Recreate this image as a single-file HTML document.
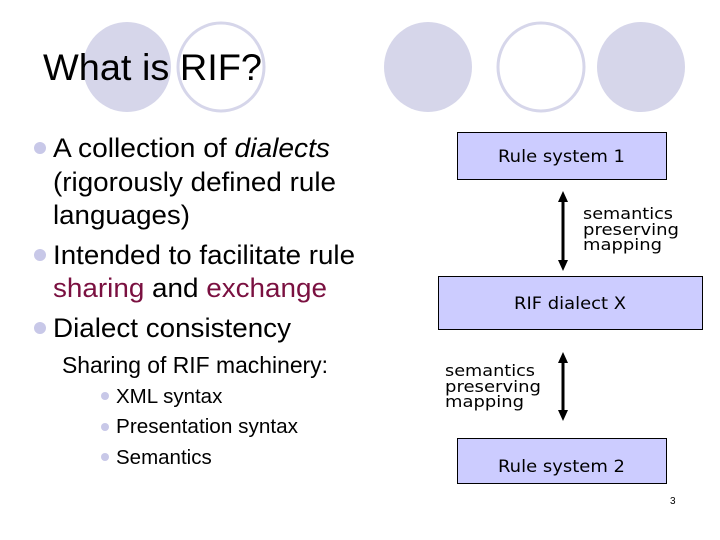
<!DOCTYPE html>
<html><head><style>body{margin:0;background:#fff}svg{display:block}</style></head><body>
<svg width="720" height="540" xmlns="http://www.w3.org/2000/svg">
<g fill="#d6d6ea">
<ellipse cx="127" cy="67" rx="44" ry="45"/>
<ellipse cx="428" cy="67" rx="44" ry="45"/>
<ellipse cx="641" cy="67" rx="44" ry="45"/>
</g>
<g fill="none" stroke="#d6d6ea" stroke-width="3">
<ellipse cx="221" cy="67" rx="43" ry="44"/>
<ellipse cx="541" cy="67" rx="43" ry="44"/>
</g>
<text x="43" y="80" font-family="Liberation Sans, sans-serif" font-size="37" fill="#000" textLength="219" lengthAdjust="spacingAndGlyphs">What is RIF?</text>
<g fill="#c8c8e8">
<circle cx="40" cy="148" r="6"/><circle cx="40" cy="255" r="6"/><circle cx="40" cy="328" r="6"/>
<circle cx="105" cy="396" r="4"/><circle cx="105" cy="427" r="4"/><circle cx="105" cy="457" r="4"/>
</g>
<g font-family="Liberation Sans, sans-serif" font-size="27" fill="#000" lengthAdjust="spacingAndGlyphs">
<text x="53" y="157" textLength="277" lengthAdjust="spacingAndGlyphs">A collection of <tspan font-style="italic">dialects</tspan></text>
<text x="53" y="191" textLength="283" lengthAdjust="spacingAndGlyphs">(rigorously defined rule</text>
<text x="53" y="224" textLength="137" lengthAdjust="spacingAndGlyphs">languages)</text>
<text x="53" y="264" textLength="302" lengthAdjust="spacingAndGlyphs">Intended to facilitate rule</text>
<text x="53" y="297" textLength="274" lengthAdjust="spacingAndGlyphs"><tspan fill="#7a1040">sharing</tspan> and <tspan fill="#7a1040">exchange</tspan></text>
<text x="53" y="337" textLength="238" lengthAdjust="spacingAndGlyphs">Dialect consistency</text>
</g>
<text x="62" y="373" font-family="Liberation Sans, sans-serif" font-size="23" textLength="266" lengthAdjust="spacingAndGlyphs">Sharing of RIF machinery:</text>
<g font-family="Liberation Sans, sans-serif" font-size="20.5">
<text x="116" y="403">XML syntax</text>
<text x="116" y="433" textLength="182" lengthAdjust="spacingAndGlyphs">Presentation syntax</text>
<text x="116" y="464">Semantics</text>
</g>
<g fill="#ccccff" stroke="#000" stroke-width="1">
<rect x="457.5" y="132.5" width="209" height="47"/>
<rect x="438.5" y="276.5" width="264" height="53"/>
<rect x="457.5" y="438.5" width="209" height="45"/>
</g>
<g font-family="DejaVu Sans, sans-serif" font-size="16.5" fill="#000">
<text x="498" y="162" textLength="127" lengthAdjust="spacingAndGlyphs">Rule system 1</text>
<text x="514" y="309" textLength="112" lengthAdjust="spacingAndGlyphs">RIF dialect X</text>
<text x="498" y="472" textLength="127" lengthAdjust="spacingAndGlyphs">Rule system 2</text>
</g>
<g font-family="DejaVu Sans, sans-serif" font-size="16" fill="#000">
<text x="583" y="219" textLength="90" lengthAdjust="spacingAndGlyphs">semantics</text><text x="583" y="235" textLength="96" lengthAdjust="spacingAndGlyphs">preserving</text><text x="583" y="250" textLength="79" lengthAdjust="spacingAndGlyphs">mapping</text>
<text x="445" y="376" textLength="90" lengthAdjust="spacingAndGlyphs">semantics</text><text x="445" y="392" textLength="96" lengthAdjust="spacingAndGlyphs">preserving</text><text x="445" y="407" textLength="79" lengthAdjust="spacingAndGlyphs">mapping</text>
</g>
<g stroke="#000" stroke-width="3"><line x1="563" y1="198" x2="563" y2="265"/><line x1="563" y1="359" x2="563" y2="415"/></g>
<g fill="#000">
<polygon points="563,191 558,202 568,202"/><polygon points="563,271 558,260 568,260"/>
<polygon points="563,352 558,363 568,363"/><polygon points="563,421 558,410 568,410"/>
</g>
<text x="670" y="504" font-family="Liberation Sans, sans-serif" font-size="10">3</text>
</svg>
</body></html>
